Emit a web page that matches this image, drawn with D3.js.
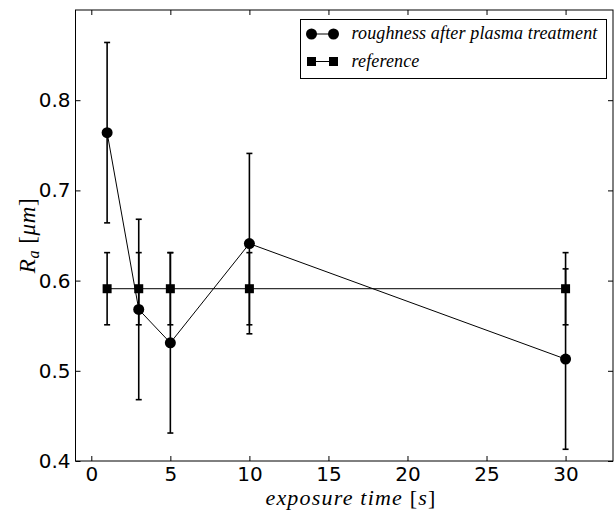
<!DOCTYPE html>
<html>
<head>
<meta charset="utf-8">
<script src="https://cdn.jsdelivr.net/npm/d3@7"></script>
<style>
  body { margin: 0; background: #fff; }
  svg { display: block; }
</style>
</head>
<body>
<script>
const width = 615;
const height = 515;
const margin = {top: 10, right: 2, bottom: 54, left: 75.5};

// exposure times [s]
const times = [1, 3, 5, 10, 30];
// roughness after plasma treatment
const roughness = [0.764, 0.568, 0.531, 0.641, 0.513];
const roughnessErr = [0.1, 0.1, 0.1, 0.1, 0.1];
// reference
const reference = [0.591, 0.591, 0.591, 0.591, 0.591];
const referenceErr = [0.04, 0.04, 0.04, 0.04, 0.04];

const xTicks = [0, 5, 10, 15, 20, 25, 30];
const yTicks = [0.4, 0.5, 0.6, 0.7, 0.8];
const seriesNames = ["roughness after plasma treatment", "reference"];

const svg = d3.select("body").append("svg")
    .attr("width", width)
    .attr("height", height);

const x = d3.scaleLinear()
    .domain([-1, 33])
    .range([margin.left, width - margin.right]);

const y = d3.scaleLinear()
    .domain([0.4, 0.9])
    .range([height - margin.bottom, margin.top]);

const tickFont = "'DejaVu Sans', sans-serif";
const mathFont = "'Liberation Serif', serif";

// frame
svg.append("rect")
    .attr("x", x(-1))
    .attr("y", y(0.9))
    .attr("width", x(33) - x(-1))
    .attr("height", y(0.4) - y(0.9))
    .attr("fill", "none")
    .attr("stroke", "#000")
    .attr("stroke-width", 1);

function styleAxis(g) {
    g.select(".domain").remove();
    g.selectAll(".tick line").attr("stroke", "#000").attr("stroke-width", 1);
    g.selectAll(".tick text")
        .attr("fill", "#000")
        .attr("font-family", null)
        .attr("font-size", null)
        .style("font-family", tickFont)
        .style("font-size", "20px");
}

svg.append("g")
    .attr("transform", `translate(0,${y(0.4)})`)
    .call(d3.axisBottom(x).tickValues(xTicks).tickSizeInner(-5).tickSizeOuter(0).tickPadding(6))
    .call(styleAxis);

svg.append("g")
    .attr("transform", `translate(0,${y(0.9)})`)
    .call(d3.axisTop(x).tickValues(xTicks).tickSizeInner(-5).tickSizeOuter(0).tickFormat(""))
    .call(styleAxis);

svg.append("g")
    .attr("transform", `translate(${x(-1)},0)`)
    .call(d3.axisLeft(y).tickValues(yTicks).tickSizeInner(-5).tickSizeOuter(0).tickPadding(5).tickFormat(d3.format(".1f")))
    .call(styleAxis);

svg.append("g")
    .attr("transform", `translate(${x(33)},0)`)
    .call(d3.axisRight(y).tickValues(yTicks).tickSizeInner(-5).tickSizeOuter(0).tickFormat(""))
    .call(styleAxis);

// error bars
function errorBars(vals, errs) {
    const g = svg.append("g").attr("stroke", "#000").attr("stroke-width", 1.6);
    times.forEach((t, i) => {
        const cx = x(t);
        const lo = y(vals[i] - errs[i]);
        const hi = y(vals[i] + errs[i]);
        g.append("line").attr("x1", cx).attr("x2", cx).attr("y1", lo).attr("y2", hi);
        g.append("line").attr("x1", cx - 3).attr("x2", cx + 3).attr("y1", lo).attr("y2", lo);
        g.append("line").attr("x1", cx - 3).attr("x2", cx + 3).attr("y1", hi).attr("y2", hi);
    });
}
errorBars(roughness, roughnessErr);
errorBars(reference, referenceErr);

const line = d3.line().x(d => x(d[0])).y(d => y(d[1]));

svg.append("path")
    .datum(times.map((t, i) => [t, roughness[i]]))
    .attr("d", line)
    .attr("fill", "none")
    .attr("stroke", "#000")
    .attr("stroke-width", 1);

svg.append("path")
    .datum(times.map((t, i) => [t, reference[i]]))
    .attr("d", line)
    .attr("fill", "none")
    .attr("stroke", "#000")
    .attr("stroke-width", 1);

svg.selectAll(".sq")
    .data(times.map((t, i) => [t, reference[i]]))
    .enter().append("rect")
    .attr("x", d => x(d[0]) - 4.5)
    .attr("y", d => y(d[1]) - 4.5)
    .attr("width", 9)
    .attr("height", 9)
    .attr("fill", "#000");

svg.selectAll(".dot")
    .data(times.map((t, i) => [t, roughness[i]]))
    .enter().append("circle")
    .attr("cx", d => x(d[0]))
    .attr("cy", d => y(d[1]))
    .attr("r", 5.5)
    .attr("fill", "#000");

// legend
const legend = svg.append("g").attr("transform", "translate(300.5,19.5)");
legend.append("rect")
    .attr("width", 306)
    .attr("height", 59)
    .attr("fill", "#fff")
    .attr("stroke", "#000")
    .attr("stroke-width", 1);

seriesNames.forEach((name, i) => {
    const ly = 14.5 + i * 27.5;
    const row = legend.append("g");
    row.append("line")
        .attr("x1", 11).attr("x2", 33)
        .attr("y1", ly).attr("y2", ly)
        .attr("stroke", "#000").attr("stroke-width", 1);
    [11, 33].forEach(mx => {
        if (i === 0) {
            row.append("circle").attr("cx", mx).attr("cy", ly).attr("r", 5.5).attr("fill", "#000");
        } else {
            row.append("rect").attr("x", mx - 4.5).attr("y", ly - 4.5)
                .attr("width", 9).attr("height", 9).attr("fill", "#000");
        }
    });
    row.append("text")
        .attr("x", 51)
        .attr("y", ly + 5)
        .style("font-family", mathFont)
        .style("font-style", "italic")
        .style("font-size", "18px")
        .style("letter-spacing", "0.15px")
        .text(name);
});

// axis labels
const xl = svg.append("text")
    .attr("x", 351)
    .attr("y", 505)
    .attr("text-anchor", "middle")
    .style("font-family", mathFont)
    .style("font-size", "22px")
    .style("letter-spacing", "1.2px");
xl.append("tspan").style("font-style", "italic").text("exposure time ");
xl.append("tspan").text("[");
xl.append("tspan").style("font-style", "italic").text("s");
xl.append("tspan").text("]");

const yl = svg.append("text")
    .attr("transform", `translate(35,${(y(0.4) + y(0.9)) / 2}) rotate(-90)`)
    .attr("text-anchor", "middle")
    .style("font-family", mathFont)
    .style("font-size", "23px")
    .style("letter-spacing", "0.6px");
yl.append("tspan").style("font-style", "italic").text("R");
yl.append("tspan").style("font-style", "italic").style("font-size", "16px").attr("dy", 4).text("a");
yl.append("tspan").attr("dy", -4).text(" [");
yl.append("tspan").style("font-style", "italic").text("μm");
yl.append("tspan").text("]");
</script>
</body>
</html>
